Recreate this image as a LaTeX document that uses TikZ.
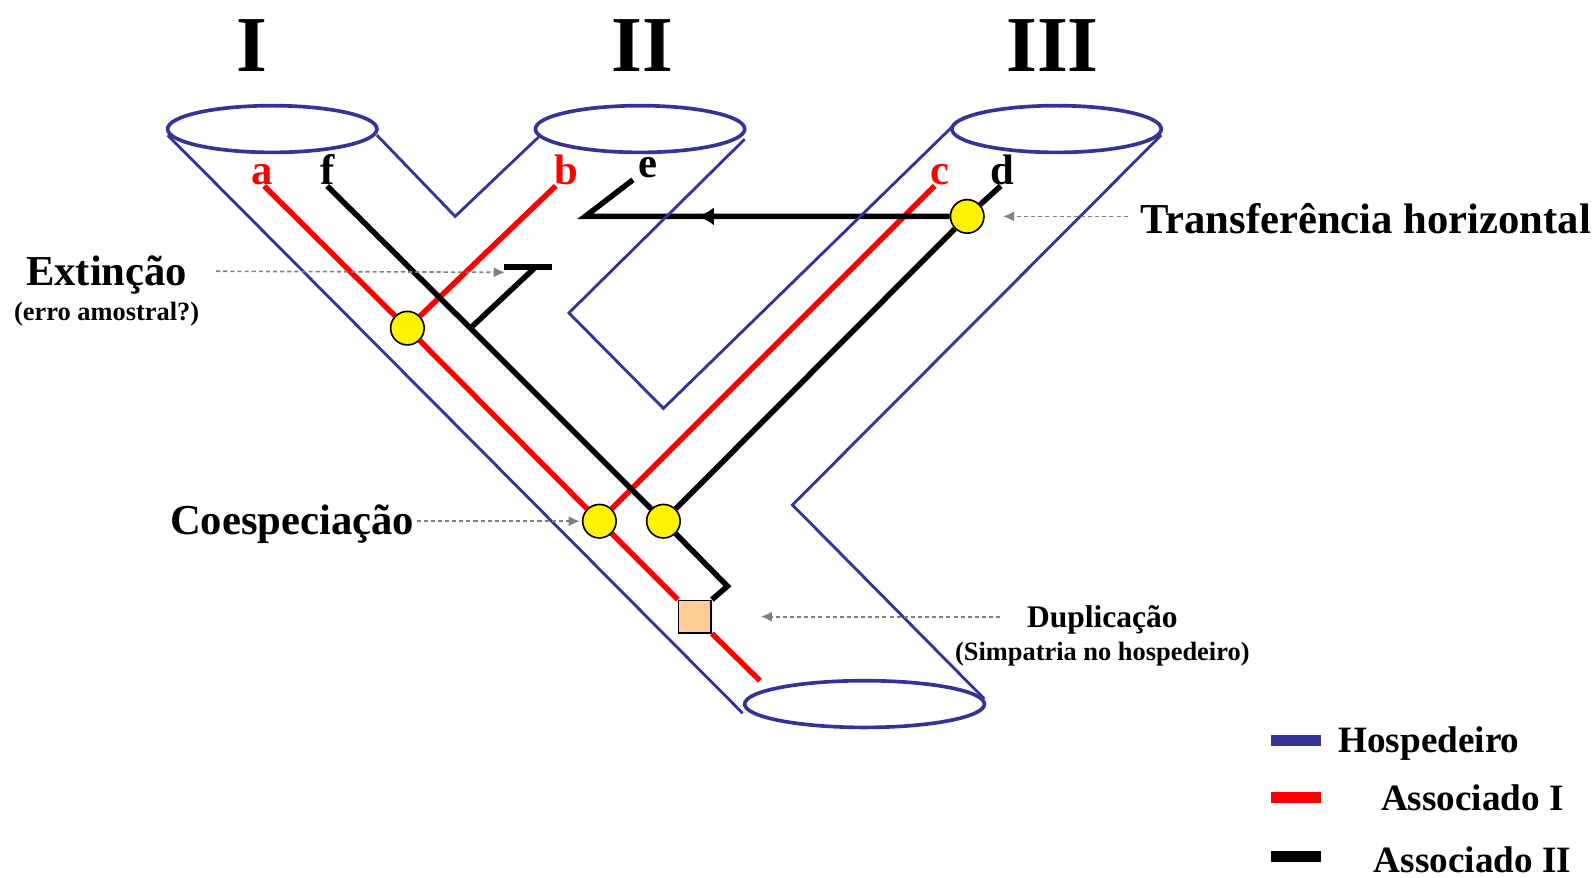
\documentclass[tikz,border=0pt]{standalone}
\usepackage{fontspec}
\setmainfont{Liberation Serif}
\usetikzlibrary{arrows.meta,decorations.markings,backgrounds}

\definecolor{hostblue}{RGB}{51,51,153}
\definecolor{peach}{RGB}{255,204,153}

\tikzset{
  host/.style={draw=hostblue,line width=1.4pt},
  rim/.style={draw=hostblue,line width=1.8pt},
  assocI/.style={draw=red,line width=2.7pt},
  assocII/.style={draw=black,line width=2.7pt},
  cosp/.style={circle,draw,line width=0.8pt,fill=yellow,minimum size=16.5pt,inner sep=0pt},
  dupl/.style={rectangle,draw,line width=0.8pt,fill=peach,minimum size=16pt,inner sep=0pt},
  note/.style={draw=gray,line width=0.8pt,dash pattern=on 2pt off 1.5pt,->},
  transfer/.style={postaction={decorate},decoration={markings,
    mark=at position 124pt with {\arrow{Latex[length=8pt,width=9pt]}}}},
  keybar/.style={line width=5.5pt},
  title/.style={inner sep=0pt,anchor=base,font=\fontsize{39}{40}\selectfont\bfseries},
  leaf/.style={inner sep=0pt,anchor=base,font=\fontsize{21}{22}\selectfont\bfseries},
  big/.style={inner sep=0pt,font=\fontsize{21}{24}\selectfont\bfseries},
  mid/.style={inner sep=0pt,font=\fontsize{15.5}{17}\selectfont\bfseries},
  small/.style={inner sep=0pt,font=\fontsize{13}{15}\selectfont\bfseries},
  key/.style={inner sep=0pt,anchor=base west,font=\fontsize{18.3}{20}\selectfont\bfseries}
}

\begin{document}
\begin{tikzpicture}[x=0.5pt,y=-0.5pt,>={Latex[length=5.5pt,width=5pt]}]
  \useasboundingbox (0,0) rectangle (1568,864);
  %host tree
  \draw[rim] (268,127) ellipse [x radius=103,y radius=23];
  \draw[rim] (630,127) ellipse [x radius=103,y radius=23];
  \draw[rim] (1040,127) ellipse [x radius=103,y radius=23];
  \draw[rim] (851,693) ellipse [x radius=118,y radius=23];
  \draw[host] (165,133) -- (731,702);
  \draw[host] (371,133) -- (448,213) -- (530,135);
  \draw[host] (733,137) -- (560,308) -- (653,402) -- (937,125);
  \draw[host] (1143,133) -- (780,497) -- (969,688);
  %host names
  \node[title] (hI) at (248,70) {I};
  \node[title] (hII) at (632,70) {II};
  \node[title] (hIII) at (1036,70) {III};
  %leaves
  \node[leaf,red] (la) at (258,182) {a};
  \node[leaf] (lf) at (322,182) {f};
  \node[leaf,red] (lb) at (557,182) {b};
  \node[leaf] (le) at (638,175) {e};
  \node[leaf,red] (lc) at (925,182) {c};
  \node[leaf] (ld) at (987,182) {d};
  \coordinate (ta) at (260,183);
  \coordinate (tf) at (322,183);
  \coordinate (tb) at (547,183);
  \coordinate (te) at (623,177);
  \coordinate (tc) at (920,183);
  \coordinate (td) at (985,183);
  \coordinate (root) at (748,670);
  %events
  \node[cosp] (sp1) at (401,323) {};
  \node[cosp] (sp2) at (590,513) {};
  \node[cosp] (sp3) at (653,513) {};
  \node[cosp] (ht) at (952,213) {};
  \node[dupl] (dup) at (684,607) {};
  \coordinate (xk) at (463,323);
  \coordinate (xm) at (527,263);
  \coordinate (xl) at (496,263);
  \coordinate (xr) at (543,263);
  \coordinate (hc) at (576,213);
  \coordinate (dk) at (716,577);
  %associates
  \begin{scope}[on background layer]
    \draw[assocI] (ta) -- (sp1) -- (sp2) -- (dup) -- (root);
    \draw[assocI] (tb) -- (sp1);
    \draw[assocI] (tc) -- (sp2);
    \draw[assocII] (tf) -- (xk) -- (sp3) -- (dk) -- (dup.north east);
    \draw[assocII] (xk) -- (xm);
    \draw[assocII] (xl) -- (xr);
    \draw[assocII] (td) -- (ht) -- (sp3);
    \draw[assocII,transfer] (ht) -- (hc) -- (te);
  \end{scope}
  %descriptions
  \node[big,anchor=west] (ltr) at (1122,215) {Transferência horizontal};
  \node[big] (lext) at (105,271) {Extinção};
  \node[small] (lerr) at (105,309) {(erro amostral?)};
  \node[big,anchor=east] (lcos) at (408,516) {Coespeciação};
  \node[mid] (ldup) at (1085,610) {Duplicação};
  \node[small] (lsim) at (1085,644) {(Simpatria no hospedeiro)};
  \coordinate (nx) at (497,268);
  \draw[note] ([xshift=-6pt,yshift=1pt]ltr.west) -- ([xshift=9pt]ht.east);
  \draw[note] ([xshift=14pt,yshift=2pt]lext.east) -- (nx);
  \draw[note] ([xshift=1pt,yshift=1.5pt]lcos.east) -- ([xshift=-1pt]sp2.west);
  \draw[note] ([xshift=-13pt,yshift=1.5pt]ldup.west) -- ([xshift=24pt]dup.east);
  %key
  \draw[keybar,hostblue] (1251,729) -- (1300,729);
  \draw[keybar,red] (1251,785) -- (1300,785);
  \draw[keybar,black] (1251,843) -- (1300,843);
  \node[key] (kh) at (1317,741) {Hospedeiro};
  \node[key] (ka) at (1359,798) {Associado I};
  \node[key] (kb) at (1352,859) {Associado II};
\end{tikzpicture}
\end{document}
